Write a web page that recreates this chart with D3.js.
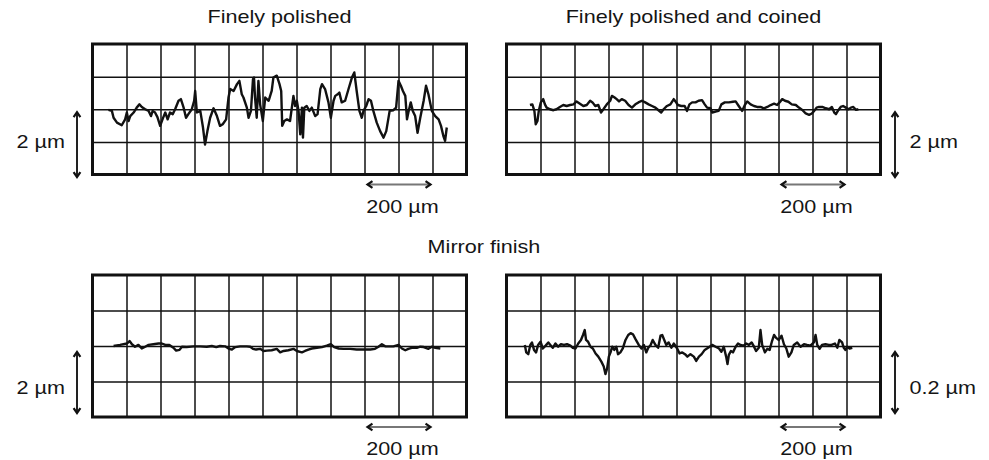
<!DOCTYPE html>
<html>
<head>
<meta charset="utf-8">
<script src="https://cdn.jsdelivr.net/npm/d3@7"></script>
<style>
  html, body { margin: 0; padding: 0; background: #fff; }
  svg { display: block; }
  text { font-family: "Liberation Sans", Arial, Helvetica, sans-serif; fill: #151515; }
</style>
</head>
<body>
<svg id="chart" width="989" height="460"></svg>
<script>
// Surface profiles: position along the trace (µm) and height (µm)
const polishedX = [47,57,62,72,86,96,101,106,111,121,130,138,145,155,165,172,177,184,191,199,207,214,221,228,236,243,253,260,268,275,282,292,299,302,307,317,325,331,338,346,356,366,375,383,393,400,405,415,425,432,439,444,454,459,466,472,475,478,483,488,493,501,508,518,527,532,542,550,555,558,564,572,581,591,596,601,606,611,616,619,623,630,638,645,655,662,670,675,684,694,701,709,714,721,726,733,743,753,763,770,777,785,792,797,805,812,819,826,836,846,856,864,874,885,893,900,907,913,920,925,929,936,942,949,956,964,974,981,988,998,1008,1018,1025,1032,1037,1042];
const polishedY = [-0.02,-0.05,-0.26,-0.41,-0.49,-0.31,-0.10,-0.36,-0.21,-0.10,0.05,0.15,0.07,0.00,-0.05,-0.21,-0.05,-0.10,-0.24,-0.51,-0.28,-0.10,-0.31,-0.10,-0.15,0.00,0.26,0.31,0.05,-0.26,-0.15,0.00,0.26,0.56,-0.10,-0.05,-0.56,-1.08,-0.67,-0.26,0.03,-0.21,-0.51,-0.46,-0.31,0.36,0.62,0.56,0.77,0.87,0.46,0.36,0.05,-0.26,-0.05,0.92,0.97,0.36,-0.26,0.87,0.15,-0.36,0.36,0.26,0.56,0.97,1.03,0.77,0.56,-0.51,-0.36,-0.31,-0.36,0.41,0.10,0.26,-0.05,-0.77,0.05,-0.87,0.05,0.10,-0.05,0.05,-0.21,-0.15,0.62,0.77,0.62,0.21,-0.26,0.26,0.41,0.46,0.51,0.21,0.26,0.62,0.97,1.13,0.56,-0.05,-0.26,-0.05,0.10,0.31,0.26,-0.05,-0.41,-0.67,-0.87,-0.67,-0.05,-0.03,0.05,0.87,0.72,0.56,0.41,-0.31,-0.10,0.21,-0.05,-0.21,-0.72,-0.26,0.26,0.72,0.46,-0.05,-0.21,-0.31,-0.51,-0.82,-0.97,-0.56];

const coinedX = [69,76,82,86,91,95,101,108,113,118,128,138,147,157,167,177,187,197,206,216,226,236,246,253,261,270,278,285,295,305,310,318,324,331,339,349,359,369,379,388,398,408,418,428,438,447,455,462,472,482,492,497,504,514,524,531,538,546,556,565,575,583,590,600,605,615,624,632,642,654,666,674,683,693,701,708,718,728,737,747,757,767,777,787,796,803,811,819,829,839,851,860,870,880,890,898,905,912,919,929,939,949,957,964,969,976,983,990,998,1006,1013,1020,1028,1035];
const coinedY = [0.13,0.15,-0.05,-0.46,-0.36,-0.05,0.21,0.31,0.15,0.05,0.00,-0.03,0.00,0.07,0.13,0.10,0.13,0.15,0.24,0.17,0.10,0.13,0.26,0.21,0.10,0.13,-0.10,0.00,0.15,0.26,0.41,0.36,0.31,0.24,0.31,0.26,0.13,0.05,0.15,0.21,0.26,0.21,0.15,0.10,0.05,-0.03,-0.10,0.00,0.10,0.15,0.31,0.24,0.13,0.10,0.10,-0.05,0.15,0.21,0.21,0.26,0.28,0.15,0.05,0.03,-0.10,-0.07,-0.05,0.15,0.21,0.21,0.23,0.24,0.10,-0.05,0.13,0.24,0.15,0.10,0.07,0.07,0.03,0.07,0.13,0.17,0.13,0.21,0.31,0.26,0.23,0.15,0.13,0.05,-0.02,-0.13,-0.17,-0.13,-0.05,0.05,0.07,0.07,0.03,0.00,0.07,-0.10,-0.15,-0.03,0.07,0.10,0.05,0.00,0.05,0.07,-0.02,0.00];

const mirrorX = [62,81,101,109,116,125,135,145,155,165,179,194,204,214,226,238,246,256,263,277,297,317,336,351,364,375,390,400,410,420,434,454,464,472,481,493,503,513,527,542,552,562,576,591,601,616,625,635,645,660,675,689,701,711,724,738,758,777,797,817,831,841,851,861,871,885,900,910,920,929,939,954,964,974,988,998,1008,1023];
const mirrorY = [0,0.03,0.07,0.14,0.05,-0.02,0.03,-0.07,-0.02,0.03,0.05,0.07,0.07,0.03,0.03,-0.05,-0.13,-0.11,-0.02,-0.03,-0.01,-0.01,-0.02,0,-0.03,0,-0.01,-0.07,-0.10,-0.03,-0.01,-0.01,-0.02,-0.08,-0.10,-0.08,-0.14,-0.13,-0.12,-0.08,-0.18,-0.14,-0.12,-0.08,-0.14,-0.18,-0.14,-0.10,-0.07,-0.05,-0.03,0.01,0.05,-0.03,-0.07,-0.08,-0.08,-0.10,-0.10,-0.10,-0.08,-0.02,0.05,-0.01,-0.01,-0.01,0.03,-0.07,-0.12,-0.08,-0.05,-0.05,-0.02,-0.03,-0.08,-0.02,-0.05,-0.07];

const mirrorFineX = [54,58,64,70,75,81,87,93,100,107,115,123,129,136,144,152,160,169,178,188,195,203,211,219,225,230,234,240,247,254,262,270,279,286,291,296,301,306,311,317,323,328,335,342,350,358,365,372,379,389,397,404,411,417,424,430,438,446,453,458,464,470,477,485,492,502,509,517,525,532,541,551,558,566,574,583,593,605,615,625,632,639,646,650,654,660,666,674,681,688,698,705,713,721,728,734,742,747,752,760,767,774,781,787,793,801,809,816,823,830,838,845,855,865,875,884,894,904,909,914,921,928,938,948,956,966,973,979,987,992,997,1002,1009,1017];
const mirrorFineY = [0.003,-0.018,-0.023,0.003,0.010,-0.011,-0.018,0.003,0.012,-0.007,0.001,0.010,0.003,-0.005,0.007,-0.002,0.005,0.003,0.005,0.001,-0.005,-0.007,0.007,0.017,0.031,0.045,0.017,0.012,-0.002,-0.007,-0.021,-0.030,-0.044,-0.058,-0.079,-0.063,-0.030,-0.018,-0.002,-0.011,-0.002,-0.023,-0.018,-0.007,0.017,0.031,0.036,0.033,0.020,0.003,-0.007,0.003,-0.018,-0.005,0.003,0.017,0.003,-0.005,0.029,0.031,0.017,0.003,0.010,-0.005,0.007,-0.007,-0.021,-0.018,-0.023,-0.030,-0.023,-0.030,-0.042,-0.030,-0.023,-0.011,-0.005,0.003,-0.002,-0.007,-0.016,-0.002,-0.030,-0.051,-0.025,-0.014,-0.018,-0.002,0.007,0.003,0.001,0.007,0.003,0.010,-0.002,-0.014,-0.005,0.045,0.003,-0.018,-0.008,-0.011,0.014,0.031,0.023,0.017,0.029,0.005,-0.007,-0.030,-0.018,0.003,0.010,-0.002,0.005,0.003,0.001,0.010,0.031,0.003,-0.008,0.003,0.005,0.003,0.003,0.007,-0.005,0.017,0.010,-0.005,-0.011,-0.002,-0.007,-0.005];

// Panel titles and scale-bar labels
const titles = ["Finely polished", "Finely polished and coined", "Mirror finish"];
const lengthLabel = "200 µm";
const heightLabels = ["2 µm", "2 µm", "2 µm", "0.2 µm"];

const svg = d3.select("#chart");
const traceLength = 1100;   // µm across the 11 grid columns

const panels = [
  { x: polishedX,   y: polishedY,   left: 92.5,  top: 44,  bottom: 174.5, range: 2,   label: heightLabels[0], side: "left"  },
  { x: coinedX,     y: coinedY,     left: 506.5, top: 44,  bottom: 174.5, range: 2,   label: heightLabels[1], side: "right" },
  { x: mirrorX,     y: mirrorY,     left: 92.5,  top: 275, bottom: 417,   range: 2,   label: heightLabels[2], side: "left"  },
  { x: mirrorFineX, y: mirrorFineY, left: 506.5, top: 275, bottom: 417,   range: 0.2, label: heightLabels[3], side: "right" }
];
const panelWidth = 374;

// Text drawn with a slight horizontal stretch
function label(g, str, x, y, anchor) {
  g.append("text")
    .attr("transform", `translate(${x},${y}) scale(1.2,1)`)
    .attr("text-anchor", anchor || "middle")
    .attr("font-size", 18)
    .text(str);
}

function chevronArrow(g, x1, y1, x2, y2, shaftColor) {
  const ang = Math.atan2(y2 - y1, x2 - x1);
  const head = 6, spread = 0.6;
  g.append("line")
    .attr("x1", x1).attr("y1", y1).attr("x2", x2).attr("y2", y2)
    .attr("stroke", shaftColor).attr("stroke-width", 2);
  [[x1, y1, ang + Math.PI], [x2, y2, ang]].forEach(([px, py, a]) => {
    g.append("path")
      .attr("d", `M${px - head * Math.cos(a - spread)},${py - head * Math.sin(a - spread)} L${px},${py} L${px - head * Math.cos(a + spread)},${py - head * Math.sin(a + spread)}`)
      .attr("fill", "none").attr("stroke", "#111").attr("stroke-width", 2.2)
      .attr("stroke-linejoin", "miter");
  });
}

panels.forEach(p => {
  const h = p.bottom - p.top;
  const xs = d3.scaleLinear().domain([0, traceLength]).range([0, panelWidth]);
  const ys = d3.scaleLinear().domain([-p.range, p.range]).range([h, 0]);
  const g = svg.append("g").attr("transform", `translate(${p.left},${p.top})`);

  // grid: one line per 100 µm across, one per quarter of the height range
  g.append("g").attr("transform", `translate(0,${h})`)
    .call(d3.axisBottom(xs).tickValues(d3.range(100, traceLength, 100)).tickSize(h).tickFormat(""))
    .call(a => a.select(".domain").remove())
    .call(a => a.selectAll("line").attr("transform", `translate(0,${-h})`).attr("stroke", "#111").attr("stroke-width", 1.5));
  g.append("g")
    .call(d3.axisLeft(ys).tickValues([-p.range / 2, 0, p.range / 2]).tickSize(-panelWidth).tickFormat(""))
    .call(a => a.select(".domain").remove())
    .call(a => a.selectAll("line").attr("stroke", "#111").attr("stroke-width", 1.5));

  g.append("rect").attr("x", 0).attr("y", 0).attr("width", panelWidth).attr("height", h)
    .attr("fill", "none").attr("stroke", "#111").attr("stroke-width", 3);

  // profile trace
  const pts = p.x.map((v, i) => [v, p.y[i]]);
  g.append("path").datum(pts)
    .attr("d", d3.line().x(d => xs(d[0])).y(d => ys(d[1])))
    .attr("fill", "none").attr("stroke", "#111").attr("stroke-width", 2.4)
    .attr("stroke-linejoin", "round");

  // horizontal 200 µm scale bar under the last columns
  const barY = h + 10;
  chevronArrow(g, xs(800) + 3, barY, xs(1000) - 2, barY, "#777");
  label(g, lengthLabel, xs(900) + 4, h + 38);

  // vertical height scale bar
  const ax = p.side === "left" ? -15.5 : panelWidth + 14.5;
  const yTop = ys(0) + (p.range === 2 && p.top < 100 ? 3 : 6);
  const yBot = p.top < 100 ? ys(-p.range) + 2.5 : ys(-p.range) - 4;
  chevronArrow(g, ax, yTop, ax, yBot, "#222");
  if (p.side === "left") label(g, p.label, -27.5, p.top < 100 ? 103.5 : 118.5, "end");
  else label(g, p.label, panelWidth + 29, p.top < 100 ? 103.5 : 119, "start");
});

label(svg, titles[0], 279.5, 23);
label(svg, titles[1], 693.5, 23);
label(svg, titles[2], 484, 253);
</script>
</body>
</html>
